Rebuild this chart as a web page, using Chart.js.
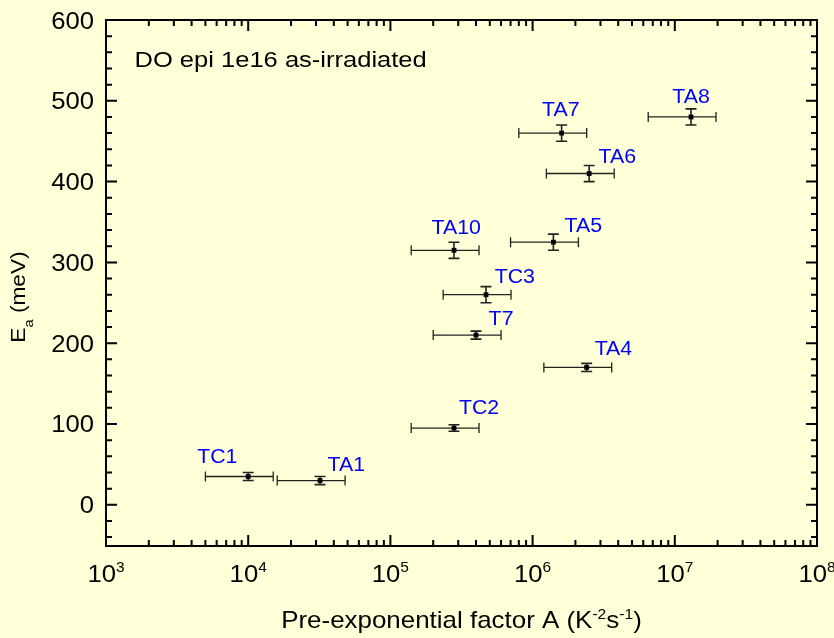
<!DOCTYPE html>
<html><head><meta charset="utf-8">
<style>html,body{margin:0;padding:0;background:#FFFFD8;overflow:hidden}</style>
<script src="https://cdn.jsdelivr.net/npm/chart.js@4.4.0/dist/chart.umd.min.js"></script>
</head><body>
<canvas id="c" width="834" height="638" style="display:block;width:834px;height:638px"></canvas>
<script>
// ---- data ----
const names        = ['TC1','TA1','TC2','T7','TA4','TC3','TA10','TA5','TA6','TA7','TA8'];
const prefactorA   = [1.0e4, 3.2e4, 2.8e5, 4.0e5, 2.4e6, 4.7e5, 2.8e5, 1.4e6, 2.5e6, 1.6e6, 1.3e7];
const prefactorLow = [5.0e3, 1.6e4, 1.4e5, 2.0e5, 1.2e6, 2.35e5, 1.4e5, 7.0e5, 1.25e6, 8.0e5, 6.5e6];
const prefactorHigh= [1.5e4, 4.8e4, 4.2e5, 6.0e5, 3.6e6, 7.05e5, 4.2e5, 2.1e6, 3.75e6, 2.4e6, 1.95e7];
const energy       = [35, 30, 95, 210, 170, 260, 315, 325, 410, 460, 480];
const energyErr    = [5, 5, 4, 5, 5, 10, 10, 10, 10, 10, 10];
// label anchor (in data units)
const labelAtA     = [6.06e3, 4.9e4, 4.2e5, 6.0e5, 3.7e6, 7.5e5, 2.9e5, 2.27e6, 3.94e6, 1.58e6, 1.3e7];
const labelAtE     = [61, 51, 122, 232, 194, 284, 344, 347, 432, 490, 507];
const xTickExponents = [3, 4, 5, 6, 7, 8];
const yTickValues    = [0, 100, 200, 300, 400, 500, 600];
const annotation = 'DO epi 1e16 as-irradiated';

const FONT = '"Liberation Sans", Arial, Helvetica, sans-serif';
const BG = '#FFFFD8';

function drawRich(ctx, segs, x, y, align, sx, color) {
  ctx.save();
  ctx.fillStyle = color || '#000';
  ctx.textBaseline = 'alphabetic';
  ctx.textAlign = 'left';
  let total = 0;
  segs.forEach(s => { ctx.font = s.size + 'px ' + FONT; s.w = ctx.measureText(s.t).width * sx; total += s.w; });
  let cx = align === 'center' ? x - total / 2 : (align === 'right' ? x - total : x);
  segs.forEach(s => {
    ctx.save();
    ctx.font = s.size + 'px ' + FONT;
    ctx.translate(cx, y + (s.dy || 0));
    ctx.scale(sx, 1);
    ctx.fillText(s.t, 0, 0);
    ctx.restore();
    cx += s.w;
  });
  ctx.restore();
  return total;
}

const decor = {
  id: 'decor',
  beforeDraw(chart) {
    const ctx = chart.ctx;
    ctx.save();
    ctx.fillStyle = BG;
    ctx.fillRect(0, 0, chart.width, chart.height);
    ctx.restore();
  },
  beforeDatasetsDraw(chart) {
    const ctx = chart.ctx, xs = chart.scales.x, ys = chart.scales.y;
    ctx.save();
    ctx.strokeStyle = '#222';
    for (let i = 0; i < names.length; i++) {
      const px = xs.getPixelForValue(prefactorA[i]);
      const py = ys.getPixelForValue(energy[i]);
      const x1 = xs.getPixelForValue(prefactorLow[i]);
      const x2 = xs.getPixelForValue(prefactorHigh[i]);
      const y1 = ys.getPixelForValue(energy[i] - energyErr[i]);
      const y2 = ys.getPixelForValue(energy[i] + energyErr[i]);
      ctx.lineWidth = 1.3;
      ctx.beginPath();
      ctx.moveTo(x1, py); ctx.lineTo(x2, py);
      ctx.moveTo(x1, py - 5); ctx.lineTo(x1, py + 5);
      ctx.moveTo(x2, py - 5); ctx.lineTo(x2, py + 5);
      ctx.stroke();
      ctx.lineWidth = 1.6;
      ctx.beginPath();
      ctx.moveTo(px, y1); ctx.lineTo(px, y2);
      ctx.moveTo(px - 5.5, y1); ctx.lineTo(px + 5.5, y1);
      ctx.moveTo(px - 5.5, y2); ctx.lineTo(px + 5.5, y2);
      ctx.stroke();
    }
    ctx.restore();
  },
  afterDraw(chart) {
    const ctx = chart.ctx, xs = chart.scales.x, ys = chart.scales.y;
    const a = chart.chartArea;
    ctx.save();
    // frame
    ctx.strokeStyle = '#000';
    ctx.lineWidth = 2;
    ctx.strokeRect(a.left, a.top, a.right - a.left, a.bottom - a.top);
    // x ticks (log)
    ctx.lineWidth = 2;
    ctx.beginPath();
    for (let e = 3; e < 8; e++) {
      for (let m = 1; m <= 9; m++) {
        const v = m * Math.pow(10, e);
        const px = xs.getPixelForValue(v);
        const len = m === 1 ? 11 : 6;
        ctx.moveTo(px, a.bottom); ctx.lineTo(px, a.bottom - len);
        ctx.moveTo(px, a.top); ctx.lineTo(px, a.top + len);
      }
    }
    // y ticks
    for (let v = -40; v <= 600; v += 20) {
      const py = ys.getPixelForValue(v);
      const len = (v % 100 === 0) ? 11 : 6;
      ctx.moveTo(a.left, py); ctx.lineTo(a.left + len, py);
      ctx.moveTo(a.right, py); ctx.lineTo(a.right - len, py);
    }
    ctx.stroke();
    // x tick labels
    xTickExponents.forEach(e => {
      const px = xs.getPixelForValue(Math.pow(10, e));
      drawRich(ctx, [{t: '10', size: 24}, {t: String(e), size: 14.5, dy: -10}], px, 582, 'center', 1.07, '#000');
    });
    // y tick labels
    yTickValues.forEach(v => {
      const py = ys.getPixelForValue(v);
      drawRich(ctx, [{t: String(v), size: 24}], 94, py + 8.5, 'right', 1.07, '#000');
    });
    // x title
    drawRich(ctx, [
      {t: 'Pre-exponential factor A (K', size: 24},
      {t: '-2', size: 14.5, dy: -9},
      {t: 's', size: 24},
      {t: '-1', size: 14.5, dy: -9},
      {t: ')', size: 24}
    ], (a.left + a.right) / 2, 628, 'center', 1.08, '#000');
    // y title (rotated)
    ctx.save();
    ctx.translate(25, 297);
    ctx.rotate(-Math.PI / 2);
    drawRich(ctx, [
      {t: 'E', size: 21},
      {t: 'a', size: 13.5, dy: 8},
      {t: ' (meV)', size: 21}
    ], 0, 0, 'center', 1.08, '#000');
    ctx.restore();
    // annotation
    drawRich(ctx, [{t: annotation, size: 22}], 134.5, 66.7, 'left', 1.16, '#000');
    // point labels
    for (let i = 0; i < names.length; i++) {
      const px = xs.getPixelForValue(labelAtA[i]);
      const py = ys.getPixelForValue(labelAtE[i]);
      drawRich(ctx, [{t: names[i], size: 20.5}], px, py + 7.4, 'center', 1.04, '#0000FF');
    }
    ctx.restore();
  }
};

const points = prefactorA.map((v, i) => ({x: v, y: energy[i]}));

new Chart(document.getElementById('c'), {
  type: 'scatter',
  data: {
    datasets: [{
      data: points,
      pointStyle: 'rect',
      pointRadius: 3.4,
      pointHoverRadius: 3.4,
      backgroundColor: '#000',
      borderColor: '#000',
      borderWidth: 0
    }]
  },
  options: {
    responsive: false,
    animation: false,
    devicePixelRatio: 1,
    layout: {padding: {left: 0, top: 20, right: 17, bottom: 0}},
    plugins: {legend: {display: false}, tooltip: {enabled: false}},
    scales: {
      x: {
        type: 'logarithmic', min: 1e3, max: 1e8,
        grid: {display: false}, border: {display: false},
        ticks: {display: false},
        afterFit: s => { s.height = 92; }
      },
      y: {
        type: 'linear', min: -51, max: 600,
        grid: {display: false}, border: {display: false},
        ticks: {display: false},
        afterFit: s => { s.width = 106; }
      }
    }
  },
  plugins: [decor]
});
</script>
</body></html>
